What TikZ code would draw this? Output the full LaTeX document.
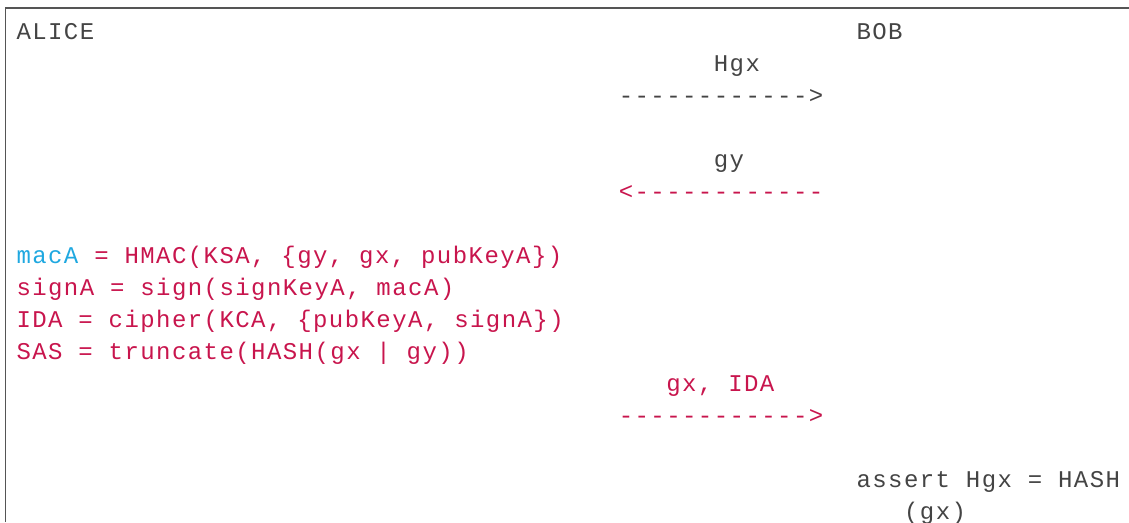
\documentclass[tikz,border=0pt]{standalone}
\usepackage{fontspec}
\newfontfamily\diagmono{Liberation Mono}[LetterSpace=6]
\definecolor{framegray}{HTML}{555555}
\definecolor{txtgray}{HTML}{444444}
\definecolor{msgred}{HTML}{C8154D}
\definecolor{macblue}{HTML}{1FA8E0}
\tikzset{
  line/.style={anchor=base west, inner sep=0pt, outer sep=0pt,
    font=\diagmono\fontsize{18pt}{21pt}\selectfont},
  gray text/.style={line, text=txtgray},
  red text/.style={line, text=msgred},
}
% column c, row r  ->  x = 16.5 + 15.85 c , baseline y = 39.5 + 32 r  (px, y down)
\newcommand\cx[1]{16.5+15.85*#1}
\newcommand\ry[1]{39.5+32*#1}
\begin{document}
\begin{tikzpicture}[x=0.75pt,y=-0.75pt]
\useasboundingbox (0,0) rectangle (1129,522);
\coordinate (frameTL) at (5.5,8);
\coordinate (frameTR) at (1129,8);
\coordinate (frameBL) at (5.5,522);
\draw[framegray, line width=1.1pt] (frameBL) -- (frameTL) -- (frameTR);

\node[gray text] (alice) at ({\cx{0}},{\ry{0}}) {ALICE};
\node[gray text] (bob) at ({\cx{53}},{\ry{0}}) {BOB};

\node[gray text] (m1label) at ({\cx{44}},{\ry{1}}) {Hgx};
\node[gray text] (m1arrow) at ({\cx{38}},{\ry{2}}) {------------>};

\node[gray text] (m2label) at ({\cx{44}},{\ry{4}}) {gy};
\node[red text] (m2arrow) at ({\cx{38}},{\ry{5}}) {<------------};

\node[red text] (l1) at ({\cx{0}},{\ry{7}}) {\textcolor{macblue}{macA} = HMAC(KSA, \{gy, gx, pubKeyA\})};
\node[red text] (l2) at ({\cx{0}},{\ry{8}}) {signA = sign(signKeyA, macA)};
\node[red text] (l3) at ({\cx{0}},{\ry{9}}) {IDA = cipher(KCA, \{pubKeyA, signA\})};
\node[red text] (l4) at ({\cx{0}},{\ry{10}}) {SAS = truncate(HASH(gx | gy))};

\node[red text] (m3label) at ({\cx{41}},{\ry{11}}) {gx, IDA};
\node[red text] (m3arrow) at ({\cx{38}},{\ry{12}}) {------------>};

\node[gray text] (assert1) at ({\cx{53}},{\ry{14}}) {assert Hgx = HASH};
\node[gray text] (assert2) at ({\cx{56}},{\ry{15}}) {(gx)};
\end{tikzpicture}
\end{document}
